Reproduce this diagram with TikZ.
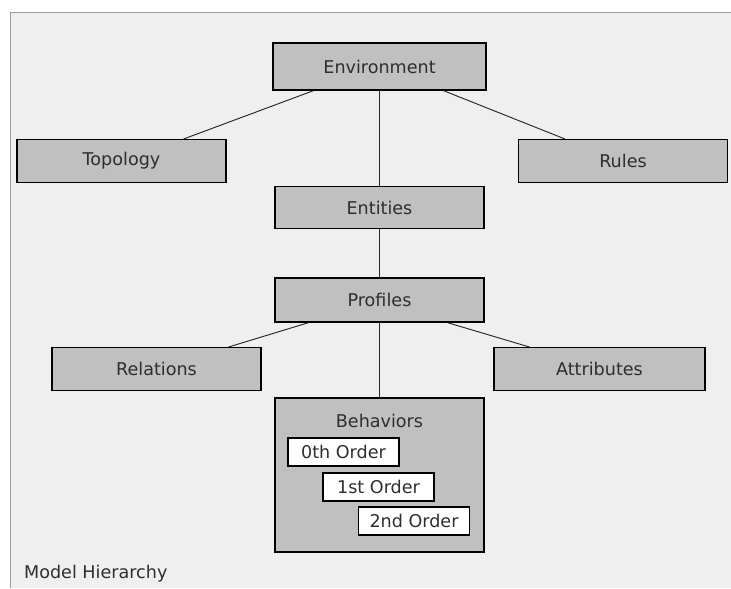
\documentclass[tikz,border=0pt]{standalone}
\usepackage{fontspec}
\setmainfont{DejaVu Sans}
\usetikzlibrary{calc}
\definecolor{boxgray}{HTML}{C0C0C0}
\definecolor{panelgray}{HTML}{EFEFEF}
\definecolor{framegray}{HTML}{9A9A9A}
\definecolor{inkgray}{HTML}{2E2E2E}

\begin{document}
\begin{tikzpicture}[x=0.03cm, y=-0.03cm,
	every node/.style={font=\fontsize{15}{18}\selectfont, text=inkgray},
	block/.style={draw=black, fill=boxgray, line width=1.1pt, minimum width=6.27cm, minimum height=1.28cm, inner sep=0pt},
	order/.style={draw=black, fill=white, line width=1.1pt, minimum width=3.33cm, minimum height=0.84cm, inner sep=0pt},
	link/.style={draw=black!85, line width=0.8pt}]
	\useasboundingbox (0, 0) rectangle (731, 588);
	% Panel:
	\fill[panelgray] (10, 12) rectangle (731, 588);
	\draw[framegray, line width=0.8pt] (10, 588) |- (731, 12);
	% Boxes:
	\node[block, minimum width=6.39cm, minimum height=1.41cm] (env) at (379.5, 66.5) {Environment};
	\node[block] (topo) at (121.5, 161) {Topology};
	\node[block] (rules) at (623, 161) {Rules};
	\node[block] (ent) at (379.5, 207.5) {Entities};
	\node[block, minimum height=1.32cm] (prof) at (379.5, 300) {Profiles};
	\node[block] (rel) at (156.5, 369) {Relations};
	\node[block, minimum width=6.33cm] (attr) at (599.5, 369) {Attributes};
	\node[block, minimum height=4.62cm] (beh) at (379.5, 475) {};
	\node (behlbl) at (379.5, 421) {Behaviors};
	\node[order] (ord0) at (343.5, 452) {0th Order};
	\node[order] (ord1) at (378.5, 487) {1st Order};
	\node[order] (ord2) at (414, 521) {2nd Order};
	\node[anchor=west] (title) at (20, 574) {Model Hierarchy};
	% Links:
	\draw[link] ($(env.south)+(-66, 0)$) -- ($(topo.north)+(62, 0)$);
	\draw[link] ($(env.south)+(64, 0)$) -- ($(rules.north)+(-58, 0)$);
	\draw[link] (env.south) -- (ent.north);
	\draw[link] (ent.south) -- (prof.north);
	\draw[link] ($(prof.south)+(-71, 0)$) -- ($(rel.north)+(72, 0)$);
	\draw[link] ($(prof.south)+(68, 0)$) -- ($(attr.north)+(-70, 0)$);
	\draw[link] (prof.south) -- (beh.north);
\end{tikzpicture}
\end{document}
